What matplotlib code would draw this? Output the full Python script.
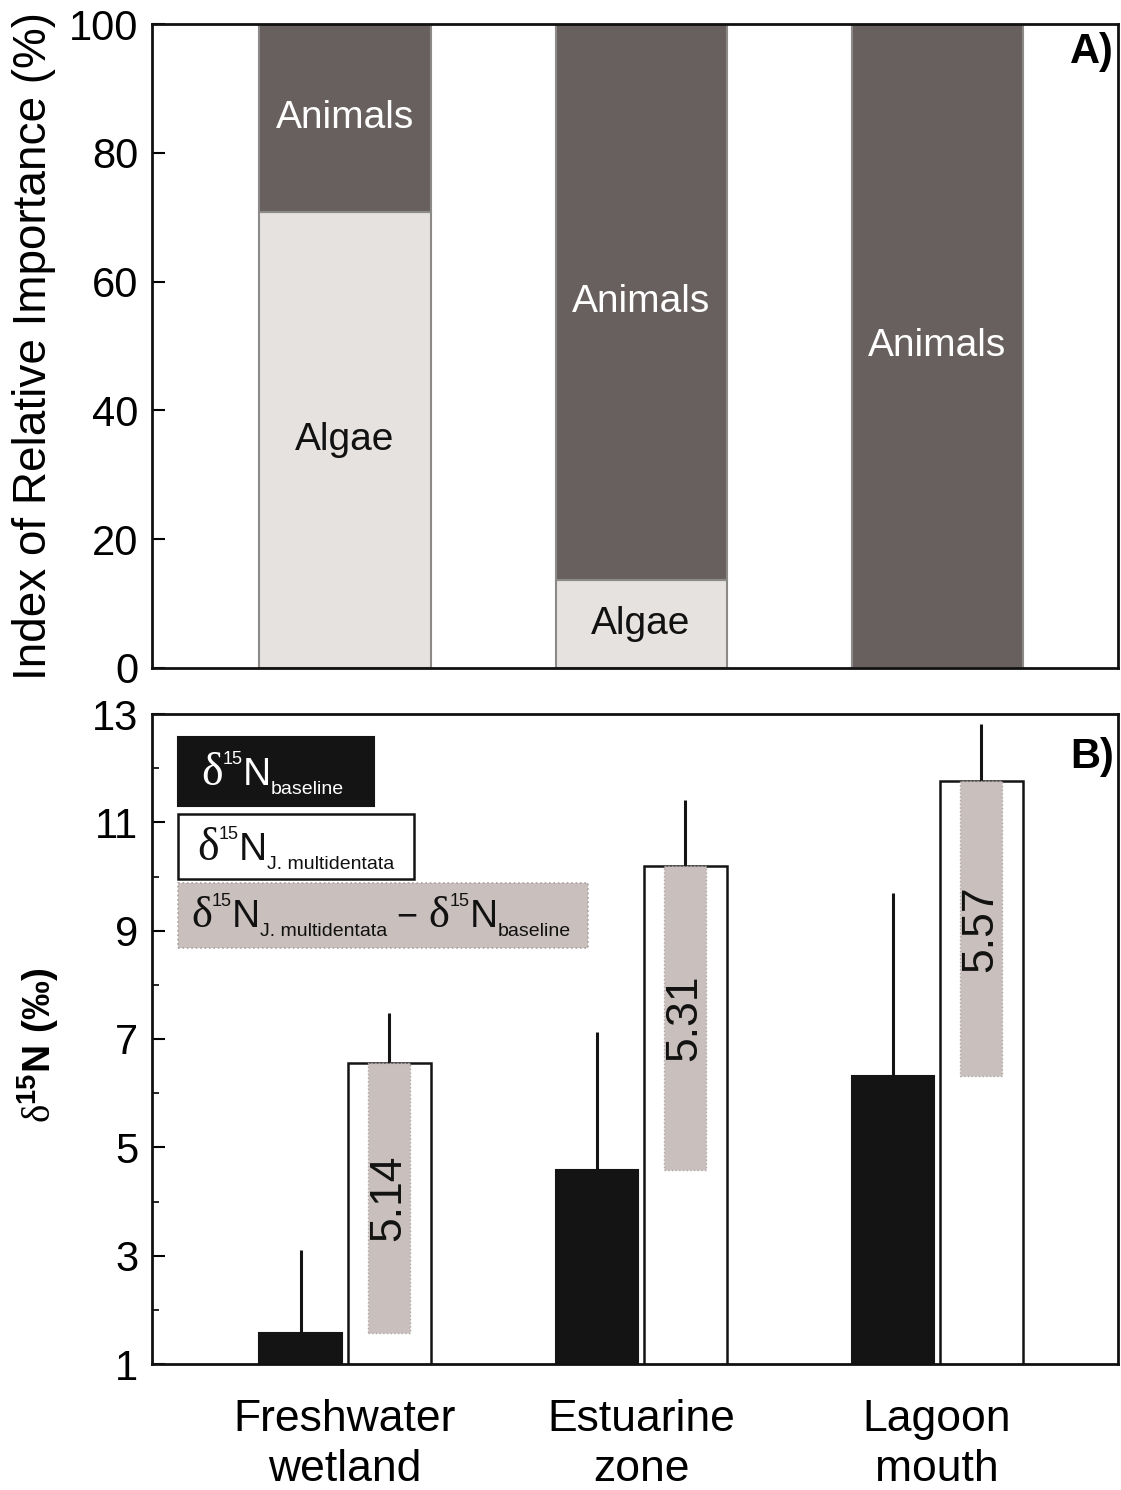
import matplotlib
matplotlib.use("Agg")
import matplotlib.pyplot as plt
from matplotlib.patches import Rectangle
from matplotlib.ticker import MultipleLocator, FixedLocator
import numpy as np

plt.rcParams['font.family'] = ['Liberation Sans', 'DejaVu Sans']
plt.rcParams['mathtext.fontset'] = 'custom'
plt.rcParams['mathtext.rm'] = 'Liberation Serif'
plt.rcParams['mathtext.sf'] = 'Liberation Sans'
plt.rcParams['mathtext.bf'] = 'Liberation Sans:bold'

# ---------------- data ----------------
sites = ['Freshwater\nwetland', 'Estuarine\nzone', 'Lagoon\nmouth']
algae = [70.8, 13.7, 0.0]
animals = [29.2, 86.3, 100.0]

d15n_baseline = [1.57, 4.58, 6.32]
d15n_baseline_sd = [1.53, 2.55, 3.37]
d15n_jm = [6.56, 10.19, 11.76]
d15n_jm_sd = [0.92, 1.22, 1.05]
diff_labels = ['5.14', '5.31', '5.57']
ticksB = [1, 3, 5, 7, 9, 11, 13]

# ---------------- figure ----------------
W, H, DPI = 1121, 1490, 100
fig = plt.figure(figsize=(W / DPI, H / DPI), dpi=DPI)

def fx(px):
    return px / W

def fy(py):
    return 1 - py / H

L, R = 152, 1118
axA = fig.add_axes([fx(L), fy(668), fx(R) - fx(L), fy(24) - fy(668)])
axB = fig.add_axes([fx(L), fy(1364), fx(R) - fx(L), fy(714) - fy(1364)])

x = np.arange(len(sites))
xlim = (-0.652, 2.611)

C_ANIM = '#67605e'
C_ALG = '#e6e2e0'
C_EDGE = '#8c8a89'
C_DIFF = '#c9bfbc'

TICK_FS = 30

# ---------------- panel A ----------------
wA = 0.578
axA.bar(x, algae, width=wA, color=C_ALG, edgecolor=C_EDGE, linewidth=1.5, zorder=2)
axA.bar(x, animals, width=wA, bottom=algae, color=C_ANIM, edgecolor=C_EDGE, linewidth=1.5, zorder=2)
for i in range(len(sites)):
    if algae[i] > 0:
        axA.text(x[i], algae[i] / 2, 'Algae', ha='center', va='center', fontsize=28, color='#111111', zorder=3)
    axA.text(x[i], algae[i] + animals[i] / 2, 'Animals', ha='center', va='center', fontsize=28, color='white', zorder=3)

axA.set_xlim(*xlim)
axA.set_ylim(0, 100)
axA.yaxis.set_major_locator(MultipleLocator(20))
axA.tick_params(axis='y', direction='in', length=9, width=1.5, labelsize=TICK_FS, pad=10)
axA.tick_params(axis='x', bottom=False, labelbottom=False)
axA.set_ylabel('Index of Relative Importance (%)', fontsize=33)
axA.yaxis.set_label_coords(-0.099, 0.5)
axA.text(0.996, 0.988, 'A)', transform=axA.transAxes, ha='right', va='top', fontsize=30, fontweight='bold')

# ---------------- panel B ----------------
wB = 0.28
off = 0.149
axB.bar(x - off, d15n_baseline, width=wB, bottom=0, color='#141414', edgecolor='#141414', linewidth=1.5, zorder=2)
axB.errorbar(x - off, d15n_baseline, yerr=[np.zeros(3), d15n_baseline_sd], fmt='none', ecolor='#141414', elinewidth=2.2, capsize=0, zorder=1)
axB.bar(x + off, d15n_jm, width=wB, bottom=0, color='white', edgecolor='#141414', linewidth=1.8, zorder=2)
diff = np.array(d15n_jm) - np.array(d15n_baseline)
axB.bar(x + off, diff, width=0.142, bottom=d15n_baseline, color=C_DIFF, edgecolor='#b0a8a6', linewidth=1.0, linestyle=':', zorder=3)
axB.errorbar(x + off, d15n_jm, yerr=[np.zeros(3), d15n_jm_sd], fmt='none', ecolor='#141414', elinewidth=2.2, capsize=0, zorder=1)
for i in range(len(sites)):
    mid = (d15n_baseline[i] + d15n_jm[i]) / 2
    axB.text(x[i] + off, mid, diff_labels[i], rotation=90, ha='center', va='center', fontsize=32, color='#111111', zorder=4)

axB.set_xlim(*xlim)
axB.set_ylim(1, 13)
axB.yaxis.set_major_locator(FixedLocator(ticksB))
axB.yaxis.set_minor_locator(MultipleLocator(1))
axB.tick_params(axis='y', which='major', direction='in', length=9, width=1.5, labelsize=TICK_FS, pad=10)
axB.tick_params(axis='y', which='minor', direction='in', length=5, width=1.2)
axB.set_xticks(x)
axB.set_xticklabels(sites, fontsize=32, linespacing=1.3)
axB.tick_params(axis='x', length=0, pad=25)
axB.set_ylabel(r'$\mathrm{\delta}^{\mathbf{15}}\mathbf{N\ (‰)}$', fontsize=28)
axB.yaxis.set_label_coords(-0.094, 0.49)
axB.text(0.996, 0.965, 'B)', transform=axB.transAxes, ha='right', va='top', fontsize=30, fontweight='bold')

for ax in (axA, axB):
    for s in ax.spines.values():
        s.set_linewidth(2.0)
        s.set_color('#111111')

# ---------------- legend (panel B) ----------------
def bx(px):
    return (px - L) / (R - L)

def by(py):
    return 1 - (py - 714) / 650

def box(x0, x1, y0, y1, fc, ec, ls='-', lw=1.5):
    axB.add_patch(Rectangle((bx(x0), by(y1)), bx(x1) - bx(x0), by(y0) - by(y1),
                            transform=axB.transAxes, facecolor=fc, edgecolor=ec,
                            linestyle=ls, linewidth=lw, zorder=5, clip_on=False))

box(178, 374, 737, 806, '#141414', '#141414')
box(178, 414, 814, 879, 'white', '#141414', lw=1.8)
box(178, 588, 883, 948, C_DIFF, '#aaa2a0', ls=':', lw=1.2)

renderer = fig.canvas.get_renderer()

def rich(xa, ya, parts, color):
    xoff = 0.0
    for s, size, fam, dy in parts:
        t = axB.annotate(s, (xa, ya), xycoords='axes fraction', xytext=(xoff, dy),
                         textcoords='offset points', fontsize=size, family=fam,
                         color=color, ha='left', va='baseline', zorder=6)
        xoff += t.get_window_extent(renderer).width * 72 / DPI

SER = ['Liberation Serif', 'DejaVu Serif']
SAN = ['Liberation Sans', 'DejaVu Sans']

def dN(sub, dsize=33):
    return [('δ', dsize, SER, 0), ('15', 13, SAN, 15), ('N', 28, SAN, 0), (sub, 14, SAN, -6.5)]

rich(bx(201), by(785), dN('baseline'), 'white')
rich(bx(197), by(860), dN('J. multidentata'), '#111111')
rich(bx(191), by(927), dN('J. multidentata', 32) + [(' − ', 26, SAN, 0)] + dN('baseline', 32), '#111111')

fig.savefig('out.png', dpi=DPI)
